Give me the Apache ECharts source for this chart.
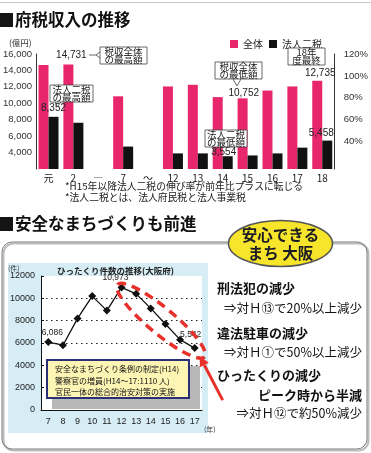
<!DOCTYPE html>
<html><head><meta charset="utf-8">
<script src="https://cdn.jsdelivr.net/npm/echarts@6/dist/echarts.min.js"></script>
<style>html,body{margin:0;padding:0;background:#fff}#c{width:371px;height:453px}</style>
</head><body><div id="c"></div>
<script>
// ---- data: 府税収入の推移 (億円) ----
const taxYears = ['元', '2', '―', '7', '〜', '12', '13', '14', '15', '16', '17', '18'];
const taxTotal = [14650, 14731, null, 10850, null, 12050, 12250, 10752, 10600, 11550, 12050, 12735];
const taxCorp  = [8352, 7630, null, 4730, null, 3900, 3900, 3554, 3650, 3900, 4600, 5458];
const taxLeftTicks = [4000, 6000, 8000, 10000, 12000, 14000, 16000];
const taxRightTicks = [40, 60, 80, 100, 120];
// ---- data: ひったくり件数の推移 (大阪府, 件) ----
const snatchYears = ['7', '8', '9', '10', '11', '12', '13', '14', '15', '16', '17'];
const snatchCounts = [6086, 5800, 8200, 10200, 8900, 10973, 10400, 9100, 7700, 6300, 5542];
const snatchTicks = [0, 2000, 4000, 6000, 8000, 10000, 12000];

const PINK = '#e8266c';
const CJK = '"Noto Sans CJK JP", "Noto Sans", sans-serif';
const NUM = '"Liberation Sans", "Noto Sans CJK JP", sans-serif';

const labelAt = { // value labels (index -> offset)
  total: { 1: [3, 0], 7: [26, 5], 11: [3, 1] },
  corp: { 0: [0, 0], 7: [-4, 5], 11: [-6, 2] },
  snatch: { 0: [4, 3], 5: [-6, 2], 10: [-4, -1] }
};
function withLabels(arr, map, fs) {
  return arr.map((v, i) => {
    if (v == null) return '-';
    if (!map[i]) return v;
    return { value: v, label: { show: true, position: 'top', offset: map[i], distance: 4,
      formatter: p => p.value.toLocaleString('en-US'), fontSize: fs, color: '#222', fontFamily: NUM } };
  });
}

function txt(x, y, text, font, extra) {
  return Object.assign({ type: 'text', z: 30, style: Object.assign({
    x: x, y: y, text: text, font: font, fill: '#111',
    textAlign: 'left', textVerticalAlign: 'middle', align: 'left', verticalAlign: 'middle'
  }, extra || {}) });
}
function callout(cx, top, w, l1, l2) {
  return [
    { type: 'rect', z: 30, shape: { x: cx - w / 2, y: top, width: w, height: 17 },
      style: { fill: '#fff', stroke: '#444', lineWidth: 0.8 } },
    txt(cx, top + 4.6, l1, '9.5px ' + CJK, { textAlign: 'center', align: 'center', fill: '#222' }),
    txt(cx, top + 12.6, l2, '9.5px ' + CJK, { textAlign: 'center', align: 'center', fill: '#222' })
  ];
}
function pl(points, z) {
  return { type: 'polyline', z: z || 31, shape: { points: points },
    style: { stroke: '#444', lineWidth: 0.8, fill: null } };
}

const staticGraphic = [
  { type: 'line', z: 1, shape: { x1: 0, y1: 2.5, x2: 371, y2: 2.5 }, style: { stroke: '#c9c9c9', lineWidth: 1 } },
  { type: 'rect', z: 30, shape: { x: 0, y: 13, width: 13, height: 14 }, style: { fill: '#151515' } },
  txt(15, 20, '府税収入の推移', 'bold 16.5px ' + CJK),
  txt(9, 43, '(億円)', '8.5px ' + CJK, { fill: '#333' }),
  // callouts
  ...callout(123.5, 47, 47, '税収全体', 'の最高額'),
  pl([[89, 55], [96, 55]]), pl([[100, 52], [96, 55], [100, 58]]),
  ...callout(71.5, 85, 43, '法人二税', 'の最高額'),
  pl([[55, 102], [57, 107], [61, 102]]),
  ...callout(238.5, 62, 47, '税収全体', 'の最低額'),
  pl([[233, 79], [237, 86], [241, 79]]),
  ...callout(306.5, 48, 37, '18年', '度最終'),
  ...callout(226, 130, 42, '法人二税', 'の最低額'),
  pl([[214, 147], [213, 152], [219, 147]]),
  // footnotes
  txt(65, 186, '*H15年以降法人二税の伸び率が前年比プラスに転じる', '9.8px ' + CJK, { fill: '#222' }),
  txt(65, 197, '*法人二税とは、法人府民税と法人事業税', '9.8px ' + CJK, { fill: '#222' }),
  // section 2
  { type: 'rect', z: 30, shape: { x: 0, y: 217, width: 13, height: 14 }, style: { fill: '#151515' } },
  txt(15, 224, '安全なまちづくりも前進', 'bold 16.5px ' + CJK),
  { type: 'rect', z: -20, shape: { x: 3.5, y: 243.5, width: 365, height: 207, r: 10 },
    style: { fill: null, stroke: '#bdbdbd', lineWidth: 2 } },
  { type: 'rect', z: -19, shape: { x: 2, y: 242, width: 365, height: 207, r: 10 },
    style: { fill: null, stroke: '#7d7d7d', lineWidth: 1 } },
  { type: 'rect', z: -10, shape: { x: 8, y: 263, width: 200, height: 170 }, style: { fill: '#d6edf6' } },
  txt(8, 268, '(件)', '7px ' + CJK, { fill: '#333' }),
  txt(57, 271, 'ひったくり件数の推移(大阪府)', 'bold 8.5px ' + CJK, { fill: '#222' }),
  txt(204, 429, '(年)', '7px ' + CJK, { fill: '#333' }),
  // yellow note box
  { type: 'rect', z: 20, shape: { x: 52, y: 366, width: 148, height: 43 }, style: { fill: '#b8b8b8' } },
  { type: 'rect', z: 21, shape: { x: 47, y: 360, width: 142, height: 38 },
    style: { fill: '#fdf5b4', stroke: '#2a2f78', lineWidth: 2 } },
  txt(55, 369, '安全なまちづくり条例の制定(H14)', '8px ' + CJK),
  txt(55, 380.5, '警察官の増員(H14〜17:1110 人)', '8px ' + CJK),
  txt(55, 392, '官民一体の総合的治安対策の実施', '8px ' + CJK),
  // badge
  { type: 'ellipse', z: 25, shape: { cx: 280.5, cy: 243.5, rx: 52, ry: 23 },
    style: { fill: '#f6e52a', stroke: '#555', lineWidth: 1.5 } },
  txt(280.5, 235.5, '安心できる', 'bold 15.5px ' + CJK, { textAlign: 'center', align: 'center', fill: '#1b1b26' }),
  txt(280.5, 253, 'まち 大阪', 'bold 15.5px ' + CJK, { textAlign: 'center', align: 'center', fill: '#1b1b26' }),
  // right texts
  txt(217, 288, '刑法犯の減少', 'bold 13px ' + CJK),
  txt(362, 308, '⇒対Ｈ⑬で20%以上減少', '12.5px ' + CJK, { textAlign: 'right', align: 'right' }),
  txt(217, 333, '違法駐車の減少', 'bold 13px ' + CJK),
  txt(362, 352, '⇒対Ｈ①で50%以上減少', '12.5px ' + CJK, { textAlign: 'right', align: 'right' }),
  txt(217, 375, 'ひったくりの減少', 'bold 13px ' + CJK),
  txt(362, 395, 'ピーク時から半減', 'bold 13px ' + CJK, { textAlign: 'right', align: 'right' }),
  txt(362, 413, '⇒対Ｈ⑫で約50%減少', '12.5px ' + CJK, { textAlign: 'right', align: 'right' })
];

const chart = echarts.init(document.getElementById('c'), null, { renderer: 'canvas' });
chart.setOption({
  animation: false,
  backgroundColor: '#fff',
  textStyle: { fontFamily: NUM },
  legend: {
    data: ['全体', '法人二税'], left: 230, top: 39, itemWidth: 8, itemHeight: 8, itemGap: 6,
    icon: 'rect', textStyle: { fontSize: 10, color: '#222', fontFamily: CJK }, padding: 0
  },
  grid: [
    { left: 36, top: 54, width: 307, height: 115 },
    { left: 41, top: 276, width: 161, height: 134, show: true, backgroundColor: '#fff', borderWidth: 0 }
  ],
  xAxis: [
    { type: 'category', gridIndex: 0, data: taxYears,
      axisLine: { show: false }, axisTick: { show: false },
      axisLabel: { margin: 4, fontSize: 10, color: '#222', fontFamily: CJK, interval: 0 } },
    { type: 'category', gridIndex: 1, data: snatchYears,
      axisLine: { lineStyle: { color: '#111', width: 1 } },
      axisTick: { inside: true, length: 3, lineStyle: { color: '#111' } },
      axisLabel: { margin: 7, fontSize: 9, color: '#222', interval: 0 } }
  ],
  yAxis: [
    { type: 'value', gridIndex: 0, min: 2000, max: 16000, interval: 2000,
      axisLine: { show: true, lineStyle: { color: '#333', width: 1 } }, axisTick: { show: false },
      splitLine: { show: false },
      axisLabel: { margin: 4, fontSize: 9.5, color: '#333',
        formatter: v => taxLeftTicks.indexOf(v) >= 0 ? v.toLocaleString('en-US') : '' } },
    { type: 'value', gridIndex: 0, position: 'right', min: 15, max: 120,
      axisLine: { show: true, lineStyle: { color: '#333', width: 1 } }, axisTick: { show: false },
      splitLine: { show: false },
      axisLabel: { customValues: taxRightTicks, margin: 9, fontSize: 9.5, color: '#333', formatter: '{value}%' } },
    { type: 'value', gridIndex: 1, min: 0, max: 12000, interval: 2000,
      axisLine: { show: true, lineStyle: { color: '#111', width: 1 } },
      axisTick: { show: true, inside: true, length: 3, lineStyle: { color: '#111' } },
      splitLine: { show: true, showMaxLine: false, showMinLine: false,
        lineStyle: { color: '#222', width: 1.2, type: [1.5, 3.5] } },
      axisLabel: { margin: 6, fontSize: 9, color: '#222',
        formatter: v => snatchTicks.indexOf(v) >= 0 ? String(v) : '' } }
  ],
  series: [
    { name: '全体', type: 'bar', xAxisIndex: 0, yAxisIndex: 0, barWidth: 10, barGap: '0%', z: 2,
      itemStyle: { color: PINK }, data: withLabels(taxTotal, labelAt.total, 10) },
    { name: '法人二税', type: 'bar', xAxisIndex: 0, yAxisIndex: 0, barWidth: 10, barGap: '0%', z: 2,
      itemStyle: { color: '#111' }, data: withLabels(taxCorp, labelAt.corp, 10) },
    { name: 'ひったくり', type: 'line', xAxisIndex: 1, yAxisIndex: 2, symbol: 'diamond', symbolSize: 8,
      lineStyle: { color: '#111', width: 1.3 }, itemStyle: { color: '#111' },
      data: withLabels(snatchCounts, labelAt.snatch, 8.5) }
  ],
  graphic: staticGraphic
});

// Red dashed ellipse + arrow placed from the data points via the chart's scales
const pPeak = chart.convertToPixel({ xAxisIndex: 1, yAxisIndex: 2 }, [snatchYears[5], snatchCounts[5]]);
const pLast = chart.convertToPixel({ xAxisIndex: 1, yAxisIndex: 2 }, [snatchYears[10], snatchCounts[10]]);
const dx = pLast[0] - pPeak[0], dy = pLast[1] - pPeak[1];
const ang = Math.atan2(dy, dx);
const len = Math.sqrt(dx * dx + dy * dy);
const cx = (pPeak[0] + pLast[0]) / 2 + 3, cy = (pPeak[1] + pLast[1]) / 2 + 3;
const tip = [pLast[0] + 5, pLast[1] + 8], tail = [pLast[0] + 28, pLast[1] + 52];
const ad = Math.atan2(tip[1] - tail[1], tip[0] - tail[0]);
const ah = 10, aw = 5;
const base = [tip[0] - ah * Math.cos(ad), tip[1] - ah * Math.sin(ad)];
const left = [base[0] + aw * Math.sin(ad), base[1] - aw * Math.cos(ad)];
const right = [base[0] - aw * Math.sin(ad), base[1] + aw * Math.cos(ad)];
chart.setOption({
  graphic: staticGraphic.concat([
    { type: 'ellipse', id: 'redRing', z: 40, x: cx, y: cy, rotation: -ang,
      shape: { cx: 0, cy: 0, rx: len / 2 + 9, ry: 13 },
      style: { fill: null, stroke: '#e8312b', lineWidth: 3.5, lineDash: [9, 6] } },
    { type: 'line', id: 'arrowLine', z: 40,
      shape: { x1: tail[0], y1: tail[1], x2: base[0], y2: base[1] },
      style: { stroke: '#e8312b', lineWidth: 3 } },
    { type: 'polygon', id: 'arrowHead', z: 40, shape: { points: [tip, left, right] },
      style: { fill: '#e8312b' } }
  ])
}, { replaceMerge: ['graphic'] });
</script>
</body></html>
